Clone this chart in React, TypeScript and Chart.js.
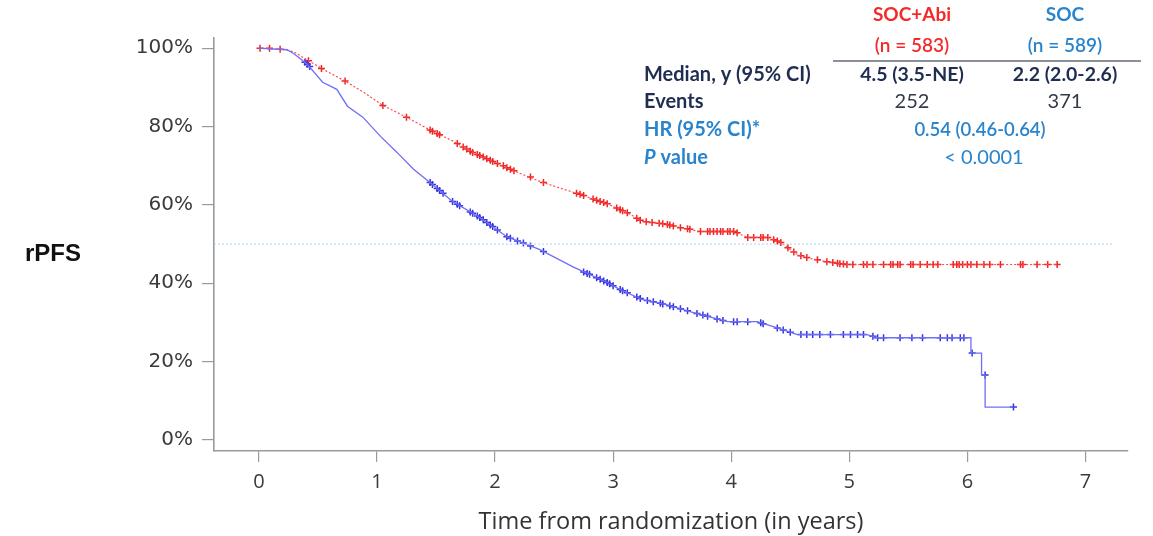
import React, { useEffect, useRef } from "react";
import { Chart, registerables } from "chart.js";

Chart.register(...registerables);

// ---- Data ----
const xTicks = [0, 1, 2, 3, 4, 5, 6, 7];
const yTicks = [0, 20, 40, 60, 80, 100];

// SOC+Abi Kaplan-Meier curve (years, % rPFS)
const abiTime = [0, 0.22, 0.3, 0.42, 0.55, 0.73, 0.9, 1.05, 1.25, 1.47, 1.65, 1.81, 2.04, 2.2, 2.38, 2.55, 2.72, 2.95, 3.12, 3.25, 3.46, 3.6, 3.74, 4.02, 4.14, 4.31, 4.42, 4.56, 4.67, 4.81, 4.98, 6.77];
const abiSurv = [100, 99.6, 99.0, 96.8, 94.5, 91.6, 88.5, 85.4, 82.4, 78.8, 76.2, 73.4, 70.3, 68.2, 66.0, 64.3, 62.7, 60.3, 58.0, 55.8, 55.0, 54.0, 53.2, 53.2, 51.7, 51.7, 50.4, 47.3, 46.3, 45.5, 44.8, 44.8];

// SOC+Abi censor marks
const abiCensorTime = [0.01, 0.09, 0.18, 0.42, 0.53, 0.73, 1.05, 1.25, 1.45, 1.47, 1.51, 1.53, 1.68, 1.73, 1.76, 1.79, 1.81, 1.85, 1.87, 1.9, 1.93, 1.96, 1.98, 2.02, 2.07, 2.1, 2.13, 2.16, 2.3, 2.41, 2.69, 2.72, 2.75, 2.83, 2.86, 2.89, 2.92, 2.95, 3.03, 3.06, 3.08, 3.12, 3.2, 3.23, 3.28, 3.33, 3.39, 3.42, 3.46, 3.48, 3.51, 3.57, 3.63, 3.65, 3.74, 3.8, 3.82, 3.85, 3.88, 3.91, 3.93, 3.97, 3.99, 4.02, 4.05, 4.14, 4.19, 4.25, 4.27, 4.31, 4.36, 4.39, 4.42, 4.48, 4.53, 4.59, 4.64, 4.73, 4.81, 4.86, 4.9, 4.92, 4.95, 4.98, 5.03, 5.12, 5.15, 5.2, 5.29, 5.35, 5.37, 5.41, 5.43, 5.52, 5.54, 5.6, 5.66, 5.71, 5.75, 5.88, 5.91, 5.93, 5.96, 6.0, 6.03, 6.08, 6.14, 6.19, 6.28, 6.45, 6.47, 6.59, 6.68, 6.76];
const abiCensorSurv = [100, 100, 99.7, 96.8, 94.8, 91.6, 85.4, 82.4, 79.1, 78.8, 78.2, 77.9, 75.7, 74.8, 74.3, 73.7, 73.4, 72.9, 72.6, 72.2, 71.8, 71.4, 71.1, 70.6, 70.0, 69.5, 69.1, 68.7, 67.1, 65.7, 63.0, 62.7, 62.4, 61.5, 61.2, 60.9, 60.6, 60.3, 59.2, 58.8, 58.5, 58.0, 56.6, 56.1, 55.7, 55.5, 55.3, 55.2, 55.0, 54.9, 54.6, 54.2, 53.9, 53.8, 53.2, 53.2, 53.2, 53.2, 53.2, 53.2, 53.2, 53.2, 53.2, 53.2, 52.9, 51.7, 51.7, 51.7, 51.7, 51.7, 51.1, 50.8, 50.4, 49.1, 48.0, 47.0, 46.6, 46.0, 45.5, 45.3, 45.1, 45.0, 44.9, 44.8, 44.8, 44.8, 44.8, 44.8, 44.8, 44.8, 44.8, 44.8, 44.8, 44.8, 44.8, 44.8, 44.8, 44.8, 44.8, 44.8, 44.8, 44.8, 44.8, 44.8, 44.8, 44.8, 44.8, 44.8, 44.8, 44.8, 44.8, 44.8, 44.8, 44.8];

// SOC Kaplan-Meier curve
const socTime = [0, 0.24, 0.3, 0.41, 0.54, 0.66, 0.75, 0.88, 1.03, 1.17, 1.31, 1.47, 1.64, 1.87, 2.1, 2.38, 2.66, 2.95, 3.06, 3.25, 3.46, 3.68, 3.97, 4.22, 4.39, 4.56, 5.15, 5.24, 6.03, 6.03, 6.12, 6.12, 6.15, 6.15, 6.39];
const socSurv = [100, 99.6, 98.5, 95.9, 91.3, 89.5, 85.2, 82.4, 77.5, 73.4, 69.1, 65.2, 60.9, 56.8, 51.9, 48.6, 44.2, 40.2, 38.4, 35.8, 34.5, 32.5, 30.2, 30.2, 28.6, 26.9, 26.9, 26.1, 26.1, 22.2, 22.2, 16.6, 16.6, 8.4, 8.4];

// SOC censor marks
const socCensorTime = [0.39, 0.41, 0.43, 1.45, 1.47, 1.51, 1.53, 1.56, 1.64, 1.68, 1.7, 1.79, 1.81, 1.85, 1.87, 1.9, 1.93, 1.96, 1.98, 2.02, 2.1, 2.13, 2.19, 2.24, 2.3, 2.41, 2.75, 2.78, 2.8, 2.86, 2.89, 2.92, 2.95, 2.97, 3.0, 3.06, 3.08, 3.12, 3.2, 3.23, 3.29, 3.34, 3.4, 3.42, 3.48, 3.51, 3.57, 3.63, 3.71, 3.76, 3.8, 3.88, 3.93, 4.02, 4.05, 4.14, 4.25, 4.27, 4.39, 4.44, 4.5, 4.59, 4.64, 4.69, 4.75, 4.84, 4.95, 5.01, 5.07, 5.12, 5.2, 5.24, 5.29, 5.43, 5.53, 5.62, 5.77, 5.83, 5.87, 5.94, 5.97, 6.04, 6.15, 6.39];
const socCensorSurv = [96.4, 95.9, 95.3, 65.7, 65.2, 64.2, 63.7, 63.0, 60.9, 60.2, 59.8, 58.2, 57.9, 57.2, 56.8, 56.2, 55.5, 54.9, 54.5, 53.6, 51.9, 51.5, 50.8, 50.3, 49.5, 48.1, 42.9, 42.5, 42.3, 41.4, 41.0, 40.6, 40.2, 39.9, 39.4, 38.4, 38.1, 37.6, 36.5, 36.1, 35.6, 35.3, 34.9, 34.7, 34.3, 34.0, 33.5, 33.0, 32.3, 31.9, 31.6, 30.9, 30.5, 30.2, 30.2, 30.2, 29.9, 29.7, 28.6, 28.1, 27.5, 26.9, 26.9, 26.9, 26.9, 26.9, 26.9, 26.9, 26.9, 26.9, 26.5, 26.1, 26.1, 26.1, 26.1, 26.1, 26.1, 26.1, 26.1, 26.1, 26.1, 22.2, 16.6, 8.4];

// Median reference line
const medianLineTime = [-0.38, 7.23];
const medianLineValue = [50, 50];

// Table text
const groupNames = ["SOC+Abi", "SOC"];
const groupNs = ["(n = 583)", "(n = 589)"];
const medians = ["4.5 (3.5-NE)", "2.2 (2.0-2.6)"];
const events = ["252", "371"];
const hrText = "0.54 (0.46-0.64)";
const pText = "< 0.0001";

const RED = "#f42a2a";
const BLUE_TXT = "#2a84cc";
const NAVY = "#1f2d50";

const pairs = (xs: number[], ys: number[]) => xs.map((x, i) => ({ x, y: ys[i] }));

const overlayPlugin = {
  id: "overlayText",
  afterDraw(chart: any) {
    const ctx = chart.ctx as CanvasRenderingContext2D;
    ctx.save();
    const tf = "Lato, 'Open Sans', sans-serif";
    const col1 = 912;
    const col2 = 1065;
    ctx.textBaseline = "middle";

    // rPFS label
    ctx.fillStyle = "#111";
    ctx.font = "bold 24px 'Liberation Sans', Arial, sans-serif";
    ctx.textAlign = "left";
    ctx.fillText("rPFS", 25, 254);

    // headers
    ctx.textAlign = "center";
    ctx.font = `bold 19px ${tf}`;
    ctx.fillStyle = RED;
    ctx.fillText(groupNames[0], col1, 15);
    ctx.font = `600 19px ${tf}`;
    ctx.fillText(groupNs[0], col1, 46);
    ctx.fillStyle = BLUE_TXT;
    ctx.font = `bold 19px ${tf}`;
    ctx.fillText(groupNames[1], col2, 15);
    ctx.font = `600 19px ${tf}`;
    ctx.fillText(groupNs[1], col2, 46);

    // rule
    ctx.strokeStyle = "#8a8f99";
    ctx.lineWidth = 2;
    ctx.beginPath();
    ctx.moveTo(833, 61);
    ctx.lineTo(1141, 61);
    ctx.stroke();

    // rows
    const rowY = [75, 102, 130, 158];
    ctx.textAlign = "left";
    ctx.font = `bold 20px ${tf}`;
    ctx.fillStyle = NAVY;
    ctx.fillText("Median, y (95% CI)", 644, rowY[0]);
    ctx.fillText("Events", 644, rowY[1]);
    ctx.fillStyle = BLUE_TXT;
    ctx.fillText("HR (95% CI)*", 644, rowY[2]);
    ctx.font = `italic bold 20px ${tf}`;
    ctx.fillText("P", 644, rowY[3]);
    const pw = ctx.measureText("P").width;
    ctx.font = `bold 20px ${tf}`;
    ctx.fillText(" value", 644 + pw, rowY[3]);

    ctx.textAlign = "center";
    ctx.fillStyle = NAVY;
    ctx.font = `bold 19.5px ${tf}`;
    ctx.fillText(medians[0], col1, rowY[0]);
    ctx.fillText(medians[1], col2, rowY[0]);
    ctx.font = `20px ${tf}`;
    ctx.fillStyle = "#333a48";
    ctx.fillText(events[0], col1, rowY[1]);
    ctx.fillText(events[1], col2, rowY[1]);
    ctx.fillStyle = BLUE_TXT;
    ctx.font = `600 18.5px ${tf}`;
    ctx.fillText(hrText, 980, rowY[2]);
    ctx.font = `20px ${tf}`;
    ctx.fillText(pText, 984, rowY[3]);

    ctx.restore();
  },
};

export default function App() {
  const ref = useRef<HTMLCanvasElement | null>(null);
  useEffect(() => {
    document.body.style.margin = "0";
    const canvas = ref.current!;
    const chart = new Chart(canvas, {
      type: "line",
      data: {
        datasets: [
          {
            label: "median",
            data: pairs(medianLineTime, medianLineValue),
            borderColor: "#a9d4f2",
            borderWidth: 1,
            borderDash: [2, 2],
            pointRadius: 0,
          },
          {
            label: "SOC",
            data: pairs(socTime, socSurv),
            borderColor: "#6e6ef8",
            borderWidth: 1.3,
            pointRadius: 0,
            tension: 0,
          },
          {
            label: "SOC+Abi",
            data: pairs(abiTime, abiSurv),
            borderColor: "#ff4a4a",
            borderWidth: 1.2,
            borderDash: [2, 2],
            pointRadius: 0,
            tension: 0,
          },
          {
            type: "scatter",
            label: "SOC censored",
            data: pairs(socCensorTime, socCensorSurv),
            pointStyle: "cross",
            pointRadius: 3.5,
            borderColor: "#3535dd",
            borderWidth: 1.5,
            showLine: false,
          } as any,
          {
            type: "scatter",
            label: "SOC+Abi censored",
            data: pairs(abiCensorTime, abiCensorSurv),
            pointStyle: "cross",
            pointRadius: 3.5,
            borderColor: "#f02525",
            borderWidth: 1.5,
            showLine: false,
          } as any,
        ],
      },
      options: {
        animation: false,
        responsive: false,
        events: [],
        layout: { padding: { left: 0, top: 38, right: 25, bottom: 0 } },
        plugins: { legend: { display: false }, tooltip: { enabled: false }, title: { display: false } },
        scales: {
          x: {
            type: "linear",
            min: -0.38,
            max: 7.36,
            afterBuildTicks: (s: any) => {
              s.ticks = xTicks.map((v) => ({ value: v }));
            },
            afterFit: (s: any) => {
              s.height = 85;
            },
            grid: { drawOnChartArea: false, drawTicks: true, tickLength: 11, color: "#9a9a9a", lineWidth: 1.2 },
            border: { display: true, color: "#9a9a9a", width: 1.6 },
            ticks: {
              color: "#3a3a3a",
              font: { family: "'Open Sans', sans-serif", size: 20 },
              padding: 8,
              maxRotation: 0,
            },
            title: {
              display: true,
              text: "Time from randomization (in years)",
              color: "#333",
              font: { family: "'Open Sans', sans-serif", size: 23.5 },
              padding: { top: 9, bottom: 0 },
            },
          },
          y: {
            type: "linear",
            min: -2.8,
            max: 102.6,
            afterBuildTicks: (s: any) => {
              s.ticks = yTicks.map((v) => ({ value: v }));
            },
            afterFit: (s: any) => {
              s.width = 214;
            },
            grid: { drawOnChartArea: false, drawTicks: true, tickLength: 12, color: "#9a9a9a", lineWidth: 1.2 },
            border: { display: true, color: "#9a9a9a", width: 1.6 },
            ticks: {
              color: "#3a3a3a",
              font: { family: "'DejaVu Sans', sans-serif", size: 20 },
              padding: 9,
              callback: (v: any) => `${v}%`,
            },
          },
        },
      },
      plugins: [overlayPlugin],
    });
    return () => chart.destroy();
  }, []);
  return (
    <div style={{ position: "absolute", left: 0, top: 0, width: 1153, height: 536, background: "#fff" }}>
      <canvas ref={ref} width={1153} height={536} />
    </div>
  );
}
